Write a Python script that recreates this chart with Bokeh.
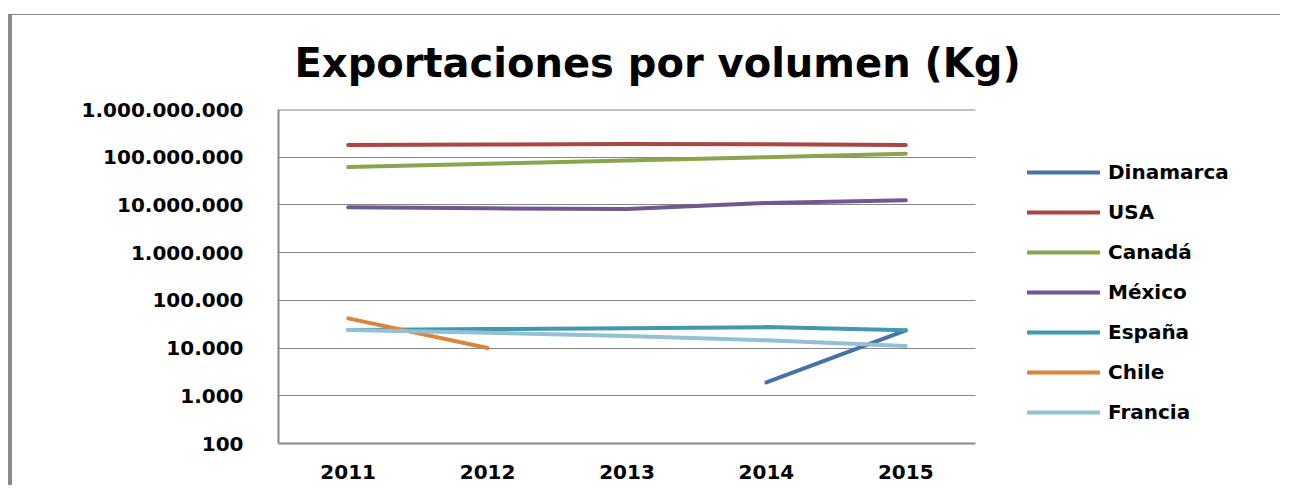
from bokeh.plotting import figure
from bokeh.models import (Range1d, FixedTicker, Legend, LegendItem,
                          ColumnDataSource)
from bokeh.embed import file_html
from bokeh.resources import INLINE

nan = float("nan")

years = ["2011", "2012", "2013", "2014", "2015"]
y_ticks = [100, 1000, 10000, 100000, 1000000, 10000000, 100000000, 1000000000]
y_tick_labels = ["100", "1.000", "10.000", "100.000", "1.000.000",
                 "10.000.000", "100.000.000", "1.000.000.000"]

series_names = ["Dinamarca", "USA", "Canadá", "México", "España", "Chile", "Francia"]
dinamarca = [nan, nan, nan, 1900, 23500]
usa = [180e6, 184e6, 190e6, 186e6, 180e6]
canada = [62e6, 73e6, 85e6, 100e6, 118e6]
mexico = [8.9e6, 8.5e6, 8.2e6, 11e6, 12.5e6]
espana = [24000, 25000, 26000, 27500, 23500]
chile = [42000, 10000, nan, nan, nan]
francia = [24000, 21000, 18000, 14500, 11000]
series_values = [dinamarca, usa, canada, mexico, espana, chile, francia]
colors = ["#4572A7", "#AA4643", "#89A54E", "#71588F", "#4198AF", "#DB843D", "#93C0D3"]

GRAY = "#878787"
FONT = "DejaVu Sans"

# category positions (centre of each category slot)
xpos = [i + 0.5 for i in range(len(years))]
n_cat = len(years)

FIG_W, FIG_H = 1272, 471
B_LEFT, B_RIGHT, B_TOP, B_BOTTOM = 266, 4, 94, 43
CAT_PX = 139.4
x_end = (FIG_W - B_LEFT - B_RIGHT) / CAT_PX

p = figure(width=FIG_W, height=FIG_H, x_range=Range1d(0, x_end),
           y_axis_type="log", y_range=Range1d(100, 1e9),
           output_backend="svg", toolbar_location=None,
           min_border_left=B_LEFT, min_border_right=B_RIGHT,
           min_border_top=B_TOP, min_border_bottom=B_BOTTOM,
           background_fill_color="white", border_fill_color="white")
p.styles = {"border-left": "4px solid #8a8a8a", "border-top": "1px solid #8a8a8a",
            "margin-top": "14px", "margin-left": "8px"}

p.outline_line_color = None

p.title.text = "Exportaciones por volumen (Kg)"
p.title.text_font = FONT
p.title.text_font_style = "bold"
p.title.text_font_size = "40px"
p.title.align = "left"
p.title.offset = 16
p.title.vertical_align = "top"
p.title.standoff = 44
p.title.text_color = "black"

yticker = FixedTicker(ticks=y_ticks)
p.yaxis.ticker = yticker
p.yaxis.major_label_overrides = {t: l for t, l in zip(y_ticks, y_tick_labels)}
p.yaxis.axis_line_color = GRAY
p.yaxis.axis_line_width = 2
p.yaxis.major_tick_line_color = None
p.yaxis.minor_tick_line_color = None
p.yaxis.major_tick_out = 0
p.yaxis.minor_tick_out = 0
p.yaxis.major_label_standoff = 35
p.yaxis.major_label_text_font = FONT
p.yaxis.major_label_text_font_style = "bold"
p.yaxis.major_label_text_font_size = "20px"
p.yaxis.major_label_text_color = "black"

p.xaxis.ticker = FixedTicker(ticks=xpos)
p.xaxis.major_label_overrides = {x: y for x, y in zip(xpos, years)}
p.xaxis.bounds = (0, n_cat)
p.xaxis.axis_line_color = GRAY
p.xaxis.axis_line_width = 2
p.xaxis.major_tick_line_color = None
p.xaxis.minor_tick_line_color = None
p.xaxis.major_tick_out = 0
p.xaxis.minor_tick_out = 0
p.xaxis.major_label_standoff = 21
p.xaxis.major_label_text_font = FONT
p.xaxis.major_label_text_font_style = "bold"
p.xaxis.major_label_text_font_size = "20px"
p.xaxis.major_label_text_color = "black"

p.xgrid.grid_line_color = None
p.ygrid.ticker = yticker
p.ygrid.grid_line_color = GRAY
p.ygrid.grid_line_width = 1
p.ygrid.minor_grid_line_color = None
p.ygrid.cross_bounds = (0, n_cat)

# top border of the plot area
p.segment(x0=[0], x1=[n_cat], y0=[y_ticks[-1]], y1=[y_ticks[-1]],
          line_color=GRAY, line_width=2)

items = []
for name, vals, col in zip(series_names, series_values, colors):
    src = ColumnDataSource(dict(x=xpos, y=vals))
    r = p.line("x", "y", source=src, line_color=col, line_width=4, line_cap="round",
               line_join="round")
    items.append(LegendItem(label=name, renderers=[r]))

legend = Legend(items=items, location=(749, 19), orientation="vertical",
                glyph_width=73, glyph_height=20, label_height=20, spacing=16,
                label_standoff=8, padding=0, margin=0,
                label_text_font=FONT, label_text_font_style="bold",
                label_text_font_size="20px", label_text_color="black",
                border_line_color=None, background_fill_alpha=0)
p.add_layout(legend)

open("out.html", "w").write(file_html(p, INLINE))
